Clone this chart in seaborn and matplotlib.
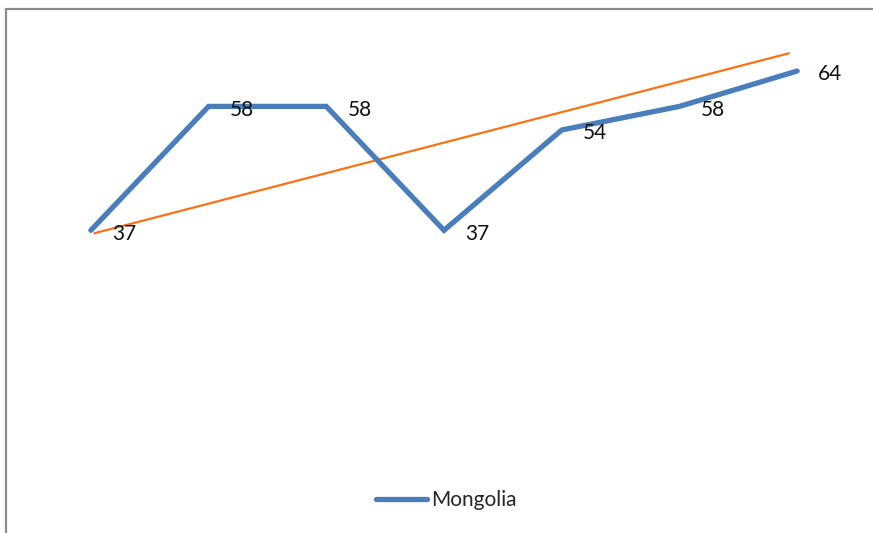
import matplotlib
matplotlib.use("Agg")
import matplotlib.pyplot as plt
from matplotlib.lines import Line2D
import seaborn as sns
import pandas as pd

# Series values
periods = [1, 2, 3, 4, 5, 6, 7]
mongolia = [37, 58, 58, 37, 54, 58, 64]
# Linear trend drawn between its start and end positions
trend_periods = [1.03, 6.93]
trend_values = [36.5, 67.0]

sns.set_theme(style="white")
plt.rcParams["font.family"] = ["Lato", "DejaVu Sans"]

df = pd.DataFrame({"period": periods, "value": mongolia, "series": "Mongolia"})
trend_df = pd.DataFrame({"period": trend_periods, "value": trend_values})

fig = plt.figure(figsize=(8.73, 5.33), dpi=100)
ax = fig.add_axes([32 / 873, 84.4 / 533, 824 / 873, 413 / 533])

blue = "#4a7ebb"
orange = "#f97316"

sns.lineplot(data=trend_df, x="period", y="value", ax=ax, color=orange,
             linewidth=1.6, legend=False)
sns.lineplot(data=df, x="period", y="value", hue="series", palette=[blue], ax=ax,
             linewidth=3.8, solid_capstyle="round", solid_joinstyle="miter",
             legend=False)

for x, y in zip(periods, mongolia):
    ax.annotate(str(y), (x, y), xytext=(24, -2.5), textcoords="offset points",
                ha="center", va="center", fontsize=15, color="#111111")

ax.set_xlim(0.5, 7.5)
ax.set_ylim(0, 70)
ax.set_axis_off()

# Legend below the plot area
handle = Line2D([], [], color=blue, linewidth=3.8, solid_capstyle="round")
fig.legend([handle], ["Mongolia"], loc="center", bbox_to_anchor=(446 / 873, 1 - 500 / 533),
           frameon=False, fontsize=15, handlelength=2.45, handletextpad=0.2,
           borderpad=0)

# Outer chart frame
fig.add_artist(Line2D([6 / 873, 6 / 873], [0, 1 - 9 / 533], transform=fig.transFigure,
                      color="#8c8c8c", linewidth=1.6))
fig.add_artist(Line2D([6 / 873, 1], [1 - 9 / 533, 1 - 9 / 533], transform=fig.transFigure,
                      color="#8c8c8c", linewidth=1.6))

fig.savefig("out.png", dpi=100, facecolor="white")
